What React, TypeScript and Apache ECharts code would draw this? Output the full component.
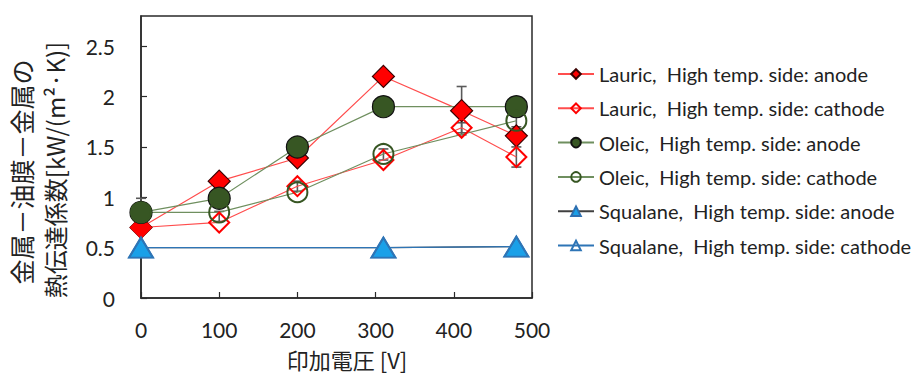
import { useEffect, useRef } from "react";
import * as echarts from "echarts";

// Applied voltage [V] for each measured series
const lauricVoltages = [0, 100, 200, 310, 410, 480];
const oleicVoltages = [0, 100, 200, 310, 480];
const squalaneVoltages = [0, 310, 480];

// Heat transfer coefficient [kW/(m²·K)]
const lauricAnode = [0.7, 1.16, 1.39, 2.2, 1.86, 1.61];
const lauricCathode = [0.7, 0.75, 1.11, 1.37, 1.69, 1.4];
const oleicAnode = [0.85, 0.99, 1.5, 1.9, 1.9];
const oleicCathode = [0.85, 0.85, 1.05, 1.43, 1.76];
const squalaneAnode = [0.5, 0.5, 0.51];
const squalaneCathode = [0.5, 0.5, 0.51];

// Error bars: voltage, lower and upper bound
const errVoltages = [0, 100, 200, 310, 410, 410, 480, 480];
const errLow = [0.85, 0.76, 1.06, 1.37, 1.62, 1.64, 1.3, 1.7];
const errHigh = [0.99, 0.86, 1.16, 1.48, 2.1, 1.74, 1.5, 1.8];

const seriesNames = [
  "Lauric,  High temp. side: anode",
  "Lauric,  High temp. side: cathode",
  "Oleic,  High temp. side: anode",
  "Oleic,  High temp. side: cathode",
  "Squalane,  High temp. side: anode",
  "Squalane,  High temp. side: cathode",
];

const yTitleLine1 = "金属－油膜－金属の";
const yTitleLine2 = "熱伝達係数[kW/(m²·K)]";
const xTitle = "印加電圧 [V]";

const pairs = (xs: number[], ys: number[]) => xs.map((x, i) => [x, ys[i]]);

const LATIN = "Lato, 'Noto Sans', sans-serif";
const CJK = "'Noto Sans CJK JP', 'Noto Sans', sans-serif";

export default function App() {
  const ref = useRef<HTMLDivElement>(null);

  useEffect(() => {
    if (!ref.current) return;
    const chart = echarts.init(ref.current, undefined, { renderer: "svg" });

    const errData = errVoltages.map((v, i) => [v, errLow[i], errHigh[i]]);

    const lineSeries = (
      name: string,
      data: number[][],
      symbol: string,
      size: number | number[],
      lineColor: string,
      fill: string,
      border: string,
      borderWidth: number
    ) => ({
      name,
      type: "line",
      data,
      symbol,
      symbolSize: size,
      showSymbol: true,
      lineStyle: { color: lineColor, width: 1.2 },
      itemStyle: { color: fill, borderColor: border, borderWidth },
      z: 3,
    });

    chart.setOption({
      animation: false,
      textStyle: { fontFamily: LATIN },
      grid: {
        left: 141,
        right: 380,
        top: 16,
        bottom: 78,
        show: true,
        borderColor: "#2a2a2a",
        borderWidth: 1.5,
        backgroundColor: "transparent",
      },
      xAxis: {
        type: "value",
        min: 0,
        max: 500,
        interval: 100,
        axisLine: { show: true, lineStyle: { color: "#2a2a2a", width: 1.5 } },
        axisTick: { show: true, inside: true, length: 6, lineStyle: { color: "#2a2a2a", width: 1.2 } },
        splitLine: { show: false },
        axisLabel: { fontSize: 21, lineHeight: 22, color: "#222", margin: 20, fontFamily: LATIN },
      },
      yAxis: {
        type: "value",
        min: 0,
        max: 2.8,
        interval: 0.5,
        axisLine: { show: true, lineStyle: { color: "#2a2a2a", width: 1.5 } },
        axisTick: { show: true, inside: true, length: 6, lineStyle: { color: "#2a2a2a", width: 1.2 } },
        splitLine: { show: false },
        axisLabel: {
          fontSize: 21,
          color: "#222",
          margin: 26,
          showMaxLabel: false,
          fontFamily: LATIN,
        },
      },
      legend: {
        orient: "vertical",
        left: 552,
        top: 58,
        itemWidth: 36,
        itemHeight: 12,
        itemGap: 12.3,
        data: seriesNames,
        textStyle: { fontSize: 20, lineHeight: 22, color: "#222", fontFamily: LATIN },
      },
      graphic: [
        {
          type: "text",
          x: 21,
          y: 172,
          rotation: Math.PI / 2,
          style: {
            text: yTitleLine1,
            font: `25px ${CJK}`,
            fill: "#222",
            align: "center",
            verticalAlign: "middle",
          },
        },
        {
          type: "text",
          x: 54,
          y: 170,
          rotation: Math.PI / 2,
          style: {
            text: yTitleLine2,
            font: `24px ${CJK}`,
            fill: "#222",
            align: "center",
            verticalAlign: "middle",
          },
        },
        {
          type: "text",
          x: 347,
          y: 359,
          style: {
            text: xTitle,
            font: `22px ${CJK}`,
            lineHeight: 24,
            fill: "#222",
            align: "center",
            verticalAlign: "middle",
          },
        },
      ],
      series: [
        {
          name: "error",
          type: "custom",
          data: errData,
          encode: { x: 0, y: [1, 2] },
          z: 2,
          renderItem: (_params: any, api: any) => {
            const lo = api.coord([api.value(0), api.value(1)]);
            const hi = api.coord([api.value(0), api.value(2)]);
            const cap = 5;
            const style = { stroke: "#5a5a5a", lineWidth: 1.6 };
            return {
              type: "group",
              children: [
                { type: "line", shape: { x1: lo[0], y1: lo[1], x2: hi[0], y2: hi[1] }, style },
                { type: "line", shape: { x1: hi[0] - cap, y1: hi[1], x2: hi[0] + cap, y2: hi[1] }, style },
                { type: "line", shape: { x1: lo[0] - cap, y1: lo[1], x2: lo[0] + cap, y2: lo[1] }, style },
              ],
            };
          },
        },
        lineSeries(seriesNames[0], pairs(lauricVoltages, lauricAnode), "diamond", 22, "#ff4d4d", "#ff0000", "#3a0000", 1.2),
        lineSeries(seriesNames[1], pairs(lauricVoltages, lauricCathode), "diamond", 20, "#ff4d4d", "rgba(255,255,255,0)", "#ff0000", 2),
        lineSeries(seriesNames[2], pairs(oleicVoltages, oleicAnode), "circle", 22, "#6f8f5f", "#375623", "#111", 1.2),
        lineSeries(seriesNames[3], pairs(oleicVoltages, oleicCathode), "circle", 20, "#6f8f5f", "rgba(255,255,255,0)", "#375623", 2),
        lineSeries(seriesNames[4], pairs(squalaneVoltages, squalaneAnode), "triangle", [24, 20], "#404040", "#1aa0e8", "#2e6fb0", 1.5),
        lineSeries(seriesNames[5], pairs(squalaneVoltages, squalaneCathode), "triangle", [24, 20], "#2e75b6", "rgba(255,255,255,0)", "#2e75b6", 2),
      ],
    });

    return () => chart.dispose();
  }, []);

  return (
    <div
      ref={ref}
      style={{ position: "fixed", left: 0, top: 0, width: 912, height: 376, background: "#fff" }}
    />
  );
}
